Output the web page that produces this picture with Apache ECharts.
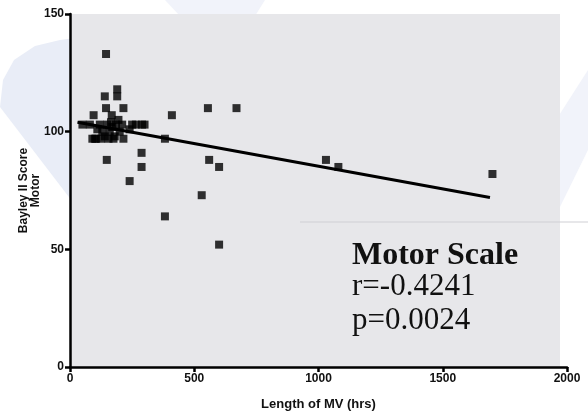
<!DOCTYPE html>
<html>
<head>
<meta charset="utf-8">
<script src="https://cdn.jsdelivr.net/npm/echarts@6/dist/echarts.min.js"></script>
<style>
  html, body { margin: 0; padding: 0; background: #fff; }
  #motor { width: 588px; height: 413px; }
</style>
</head>
<body>
<div id="motor"></div>
<script>
// length of MV (hrs), Bayley II motor score
var mvHours = [50, 145, 190, 190, 140, 145, 215, 95, 168, 410, 555, 670, 100, 382, 148, 288, 288, 560, 600, 240, 530, 382, 600, 1030, 1080, 1700,
    120, 130, 150, 160, 170, 180, 200, 210, 140, 155, 175, 185, 125, 215, 250, 265, 290, 300, 240, 80, 110, 195, 165, 90, 105];
var motorScore = [103, 133, 118, 115, 115, 110, 110, 107, 107, 107, 110, 110, 97, 97, 88, 91, 85, 88, 85, 79, 73, 64, 52, 88, 85, 82,
    103, 100, 103, 100, 102, 98, 100, 103, 98, 97, 97, 103, 97, 97, 103, 103, 103, 103, 101, 103, 101, 105, 104, 97, 97];
// fitted line end points
var fitX = [30, 1690];
var fitY = [104, 72];
var xTicks = [0, 500, 1000, 1500, 2000];
var yTicks = [0, 50, 100, 150];
var statLines = ['Motor Scale', 'r=-0.4241', 'p=0.0024'];

var points = mvHours.map(function (h, i) { return [h, motorScore[i]]; });
var fitLine = fitX.map(function (h, i) { return [h, fitY[i]]; });

var myChart = echarts.init(document.getElementById('motor'));
var option = {
    backgroundColor: '#fff',
    animation: false,
    grid: { left: 70, right: 21, top: 14, bottom: 46, outerBoundsMode: 'none' },
    graphic: [
        // faint watermark shapes behind the plot
        { type: 'polygon', z: -20, shape: { points: [[0, 107], [3, 80], [14, 60], [35, 46], [60, 40], [75, 38], [75, 205]] }, style: { fill: '#e9edf7' } },
        { type: 'polygon', z: -20, shape: { points: [[588, 70], [588, 150], [556, 215], [556, 120]] }, style: { fill: '#f1f3fa' } },
        { type: 'polygon', z: -20, shape: { points: [[165, 0], [265, 0], [255, 16], [180, 16]] }, style: { fill: '#f1f3fa' } },
        { type: 'rect', z: -10, shape: { x: 70, y: 14, width: 490, height: 353 }, style: { fill: '#e7e7ea' } },
        { type: 'line', z: -5, shape: { x1: 300, y1: 222, x2: 588, y2: 222 }, style: { stroke: '#cfcfd4', lineWidth: 1 } },
        { type: 'text', left: 352, top: 240, style: { text: statLines[0], font: 'bold 32px "Liberation Serif"', fill: '#111' } },
        { type: 'text', left: 352, top: 271, style: { text: statLines[1], font: '31px "Liberation Serif"', fill: '#111' } },
        { type: 'text', left: 352, top: 305, style: { text: statLines[2], font: '31px "Liberation Serif"', fill: '#111' } }
    ],
    xAxis: {
        type: 'value', min: xTicks[0], max: xTicks[xTicks.length - 1], interval: 500,
        name: 'Length of MV (hrs)', nameLocation: 'middle', nameGap: 31,
        nameTextStyle: { fontFamily: 'Liberation Sans', fontSize: 13, fontWeight: 'bold', color: '#111' },
        axisLine: { lineStyle: { color: '#000', width: 2.5 } },
        axisTick: { lineStyle: { color: '#000', width: 2.5 }, length: 5 },
        axisLabel: {
            fontFamily: 'Liberation Sans', fontSize: 12, fontWeight: 'bold', color: '#111', margin: 6,
            formatter: function (v) { return String(v); }
        },
        splitLine: { show: false }
    },
    yAxis: {
        type: 'value', min: yTicks[0], max: yTicks[yTicks.length - 1], interval: 50,
        name: 'Bayley II Score\nMotor', nameLocation: 'middle', nameRotate: 90, nameGap: 28, nameMoveOverlap: false,
        nameTextStyle: { fontFamily: 'Liberation Sans', fontSize: 12, fontWeight: 'bold', color: '#111', lineHeight: 12 },
        axisLine: { lineStyle: { color: '#000', width: 2.5 } },
        axisTick: { lineStyle: { color: '#000', width: 2.5 }, length: 5 },
        axisLabel: { fontFamily: 'Liberation Sans', fontSize: 12, fontWeight: 'bold', color: '#111', margin: 6 },
        splitLine: { show: false }
    },
    series: [
        {
            type: 'line',
            data: fitLine,
            symbol: 'none',
            lineStyle: { color: '#000', width: 3 },
            z: 2
        },
        {
            type: 'scatter',
            data: points,
            symbol: 'rect',
            symbolSize: 8,
            itemStyle: { color: '#000' },
            z: 3
        }
    ]
};
myChart.setOption(option);
</script>
</body>
</html>
